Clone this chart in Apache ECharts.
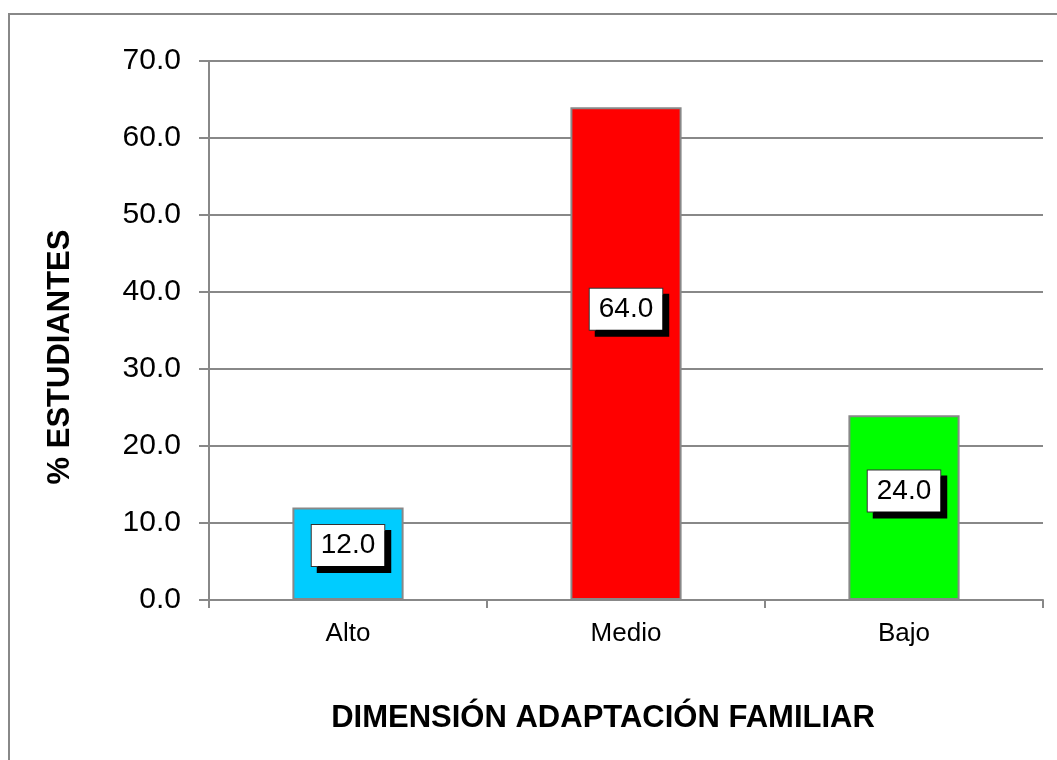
<!DOCTYPE html>
<html>
<head>
<meta charset="utf-8">
<script src="https://cdn.jsdelivr.net/npm/echarts@6/dist/echarts.min.js"></script>
<style>
  html, body { margin: 0; padding: 0; background: #fff; }
  #chart { width: 1057px; height: 760px; }
</style>
</head>
<body>
<div id="chart"></div>
<script>
// datos del grafico
const categories = ['Alto', 'Medio', 'Bajo'];
const values = [12.0, 64.0, 24.0];
const barColors = ['#00CCFF', '#FF0000', '#00FF00'];
const yTicks = { min: 0, max: 70, interval: 10 };

const fontFam = '"Liberation Sans", Arial, sans-serif';
const myChart = echarts.init(document.getElementById('chart'));

const option = {
  animation: false,
  backgroundColor: '#fff',
  graphic: [
    {
      type: 'rect',
      shape: { x: 9, y: 14, width: 1200, height: 900 },
      style: { fill: 'none', stroke: '#888', lineWidth: 2 },
      silent: true
    },
    {
      type: 'text',
      x: 60,
      y: 357,
      rotation: Math.PI / 2,
      style: {
        text: '% ESTUDIANTES',
        font: 'bold 31px ' + fontFam,
        fill: '#000',
        align: 'center',
        verticalAlign: 'middle'
      }
    },
    {
      type: 'text',
      x: 603,
      y: 718,
      style: {
        text: 'DIMENSIÓN ADAPTACIÓN FAMILIAR',
        font: 'bold 31px ' + fontFam,
        fill: '#000',
        align: 'center',
        verticalAlign: 'middle'
      }
    }
  ],
  grid: {
    left: 209,
    top: 61,
    right: 14,
    bottom: 160,
    containLabel: false
  },
  xAxis: {
    type: 'category',
    data: categories,
    axisLine: { lineStyle: { color: '#888', width: 2 } },
    axisTick: { show: true, inside: false, length: 8, lineStyle: { color: '#888', width: 2 } },
    axisLabel: {
      color: '#000',
      fontSize: 26,
      fontFamily: fontFam,
      margin: 21
    }
  },
  yAxis: {
    type: 'value',
    min: yTicks.min,
    max: yTicks.max,
    interval: yTicks.interval,
    axisLine: { show: true, lineStyle: { color: '#888', width: 2 } },
    axisTick: { show: true, length: 10, lineStyle: { color: '#888', width: 2 } },
    splitLine: { lineStyle: { color: '#888', width: 2 } },
    axisLabel: {
      color: '#000',
      fontSize: 30,
      fontFamily: fontFam,
      margin: 28,
      formatter: function (v) { return v.toFixed(1); }
    }
  },
  series: [
    {
      type: 'bar',
      barWidth: '40%',
      data: values.map(function (v, i) {
        return { value: v, itemStyle: { color: barColors[i] } };
      }),
      itemStyle: { borderColor: '#888', borderWidth: 2 },
      label: {
        show: true,
        position: ['50%', '41%'],
        align: 'center',
        verticalAlign: 'middle',
        formatter: function (p) { return p.value.toFixed(1); },
        color: '#000',
        fontSize: 28,
        fontFamily: fontFam,
        backgroundColor: '#fff',
        borderColor: '#333',
        borderWidth: 1,
        padding: [7, 9, 6, 9],
        shadowColor: '#000',
        shadowBlur: 0,
        shadowOffsetX: 6,
        shadowOffsetY: 6
      }
    }
  ]
};

myChart.setOption(option);
</script>
</body>
</html>
